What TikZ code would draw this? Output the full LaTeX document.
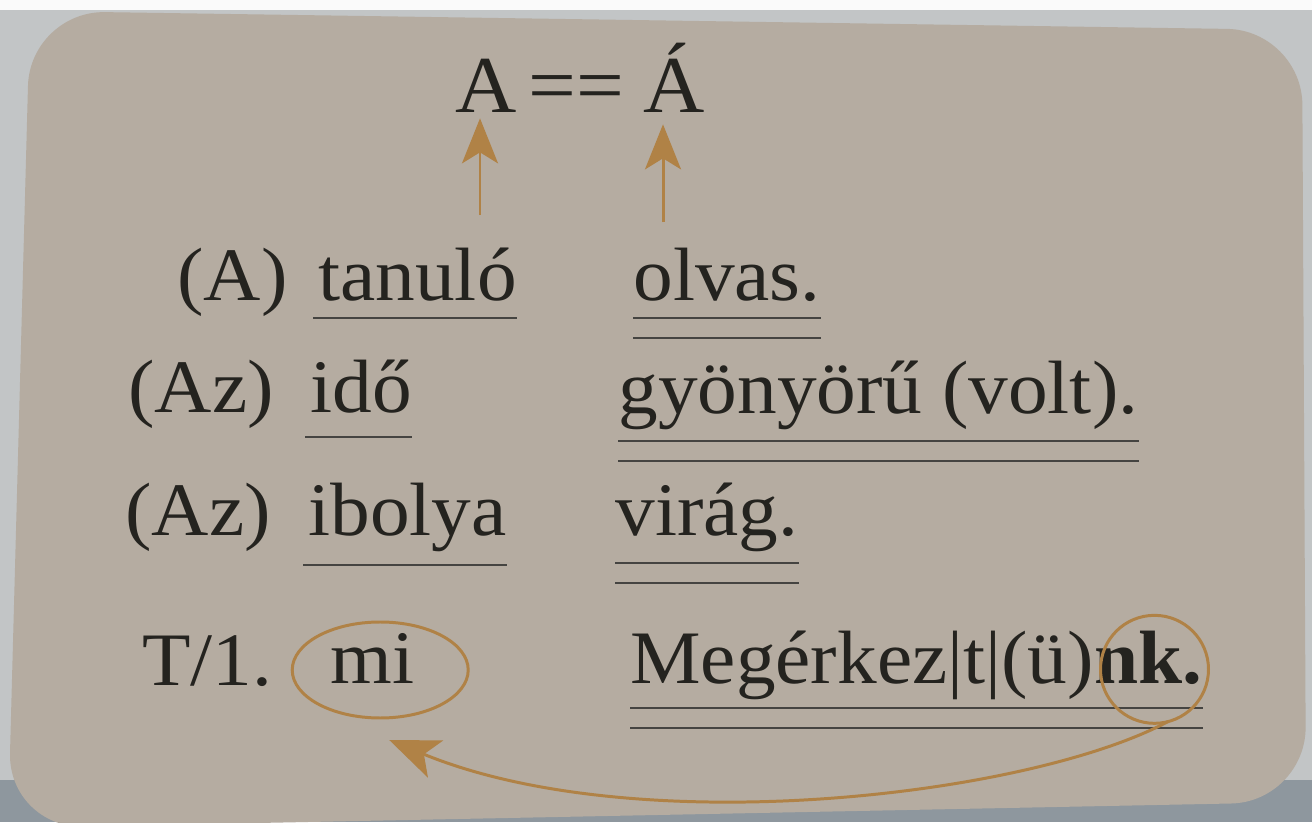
\documentclass[tikz,border=0pt]{standalone}
\usepackage{fontspec}
\setmainfont{Liberation Serif}[FakeStretch=1.05]
\usepackage{xcolor}
\definecolor{cardBeige}{HTML}{B5ACA1}
\definecolor{deskGray}{HTML}{C2C5C6}
\definecolor{deskBlue}{HTML}{8E979E}
\definecolor{inkBlack}{HTML}{24231F}
\definecolor{penBrown}{HTML}{B08246}
\usetikzlibrary{arrows.meta,calc}

\tikzset{
  word/.style={anchor=base west, inner sep=0pt, text=inkBlack, font=\fontsize{43}{50}\selectfont},
  uline/.style={draw=inkBlack!85, line width=1.6pt},
  pointer/.style={draw=penBrown, line width=1.7pt, -{Stealth[length=0.9cm,width=0.72cm,inset=0.22cm]}},
  ring/.style={draw=penBrown, line width=1.7pt},
}

\begin{document}
\begin{tikzpicture}[x=0.02cm, y=-0.02cm]
  \useasboundingbox (0,0) rectangle (1312,822);
  \clip (0,0) rectangle (1312,822);
  % ---- desk and card ----
  \fill[deskGray] (0,0) rectangle (1312,822);
  \fill[white!92!deskGray] (0,0) rectangle (1312,10);
  \fill[deskBlue] (0,780) rectangle (1312,822);
  \fill[cardBeige, rounded corners=1.5cm] (8,828) -- (30,11) -- (1302,30) -- (1306,802) -- cycle;
  % ---- heading: A == A-acute ----
  \node[word, font=\fontsize{46}{52}\selectfont] (headA) at (455,112) {A};
  \node[word, font=\fontsize{46}{52}\selectfont, anchor=base] (headEq) at (576,112) {==};
  \node[word, font=\fontsize{46}{52}\selectfont] (headAcute) at (643,112) {Á};
  \coordinate (tailA) at (480,215);
  \coordinate (tailAcute) at (663,222);
  \draw[pointer, shorten >=0.12cm] (tailA) -- (tailA |- headA.south);
  \draw[pointer, shorten >=0.24cm] (tailAcute) -- (tailAcute |- headAcute.south);
  % ---- rows: article, subject, predicate ----
  \node[word] (art1) at (177,300) {(A)};
  \node[word] (noun1) at (318,300) {tanuló};
  \node[word] (pred1) at (633,300) {olvas.};
  \node[word] (art2) at (128,412) {(Az)};
  \node[word] (noun2) at (310,412) {idő};
  \node[word] (pred2) at (618,413) {gyönyörű (volt).};
  \node[word] (art3) at (125,535) {(Az)};
  \node[word] (noun3) at (308,535) {ibolya};
  \node[word] (pred3) at (615,535) {virág.};
  \node[word] (pers) at (142,685) {T/1.};
  \node[word] (noun4) at (330,683) {mi};
  \node[word] (pred4) at (630,683) {Megérkez|t|(ü)};
  \node[word] (ending) at (pred4.base east) {\textbf{nk.}};
  % subject: one line, predicate: two lines
  \foreach \n/\u in {noun1/318, noun2/437, noun3/565}
    \draw[uline] ([xshift=-0.1cm]\n.base west |- 0,\u) -- (\n.base east |- 0,\u);
  \foreach \p/\q/\u in {pred1/pred1/318, pred2/pred2/441, pred3/pred3/563, pred4/ending/708} {
    \draw[uline] (\p.base west |- 0,\u) -- (\q.base east |- 0,\u);
    \draw[uline] (\p.base west |- 0,{\u+20}) -- (\q.base east |- 0,{\u+20});
  }
  % ---- rings and the agreement arrow ----
  \coordinate (ringMi) at ([shift={(8,12)}]noun4.center);
  \coordinate (ringNk) at ([shift={(6,12)}]ending.center);
  \draw[ring] (ringMi) ellipse [x radius=88, y radius=48];
  \draw[ring] (ringNk) circle [radius=54];
  \draw[pointer, -{Stealth[length=1.0cm,width=0.8cm,inset=0.25cm]}]
    ([shift={(14,52)}]ringNk) .. controls +(-140,75) and +(248,102) .. ([shift={(9,70)}]ringMi);
\end{tikzpicture}
\end{document}
